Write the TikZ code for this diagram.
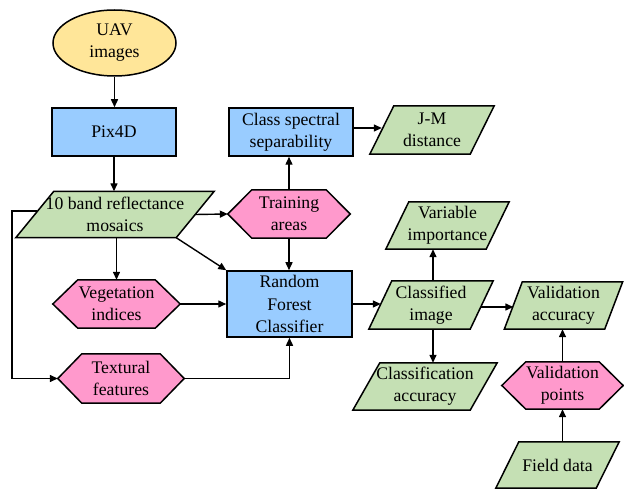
\documentclass[tikz,border=0pt]{standalone}
\usepackage{fontspec}
\setmainfont{Liberation Serif}
\usetikzlibrary{shapes.geometric,arrows.meta,backgrounds}
\definecolor{cyel}{RGB}{255,230,153}
\definecolor{cblue}{RGB}{153,204,255}
\definecolor{cgreen}{RGB}{197,224,180}
\definecolor{cpink}{RGB}{255,153,204}
\newcommand\paraShape[3]{\draw[shapeline,fill=#3] ([xshift=#2]#1.north west) -- (#1.north east) -- ([xshift=-#2]#1.south east) -- (#1.south west) -- cycle;}
\newcommand\hexShape[3]{\draw[shapeline,fill=#3] (#1.west) -- ([xshift=#2]#1.north west) -- ([xshift=-#2]#1.north east) -- (#1.east) -- ([xshift=-#2]#1.south east) -- ([xshift=#2]#1.south west) -- cycle;}
\begin{document}
\begin{tikzpicture}[x=1pt,y=-1pt,
  font={\fontsize{17.7}{22}\selectfont},
  shapeline/.style={draw=black,line width=1.5pt,line join=miter},
  box/.style={shapeline,fill=cblue,inner sep=0pt,align=center},
  txt/.style={inner sep=0pt,align=center},
  arr/.style={line width=1.4pt,-{Triangle[length=8pt,width=7pt]}},
]
\useasboundingbox (0,0) rectangle (624,489);
\node[shapeline,fill=cyel,ellipse,minimum width=123pt,minimum height=66pt,inner sep=0pt,align=center] (uav) at (114.5,43) {UAV\\images};
\node[box,minimum width=124pt,minimum height=48pt] (pix) at (114,132) {Pix4D};
\node[txt,minimum width=198pt,minimum height=46pt] (band) at (115,214.5) {10 band reflectance\\mosaics};
\node[txt,minimum width=122pt,minimum height=48pt] (train) at (289,214) {Training\\areas};
\node[box,minimum width=124pt,minimum height=48pt] (css) at (291,132) {Class spectral\\separability};
\node[txt,minimum width=124pt,minimum height=48pt] (jm) at (432,130) {J-M\\distance};
\node[txt,minimum width=123pt,minimum height=47pt] (vi) at (447.5,225.5) {Variable\\importance};
\node[box,minimum width=125pt,minimum height=66pt,font={\fontsize{17.7}{22.5}\selectfont}] (rf) at (289.5,304) {Random\\Forest\\Classifier};
\node[txt,minimum width=127pt,minimum height=48pt] (veg) at (116.5,304) {Vegetation\\indices};
\node[txt,minimum width=126pt,minimum height=49pt] (tex) at (121,378.5) {Textural\\features};
\node[txt,minimum width=124pt,minimum height=48pt] (ci) at (431,305) {Classified\\image};
\node[txt,minimum width=144pt,minimum height=47pt] (ca) at (425,386.5) {Classification\\accuracy};
\node[txt,minimum width=118pt,minimum height=47pt] (va) at (563.5,305.5) {Validation\\accuracy};
\node[txt,minimum width=121pt,minimum height=47pt] (vp) at (562.5,385.5) {Validation\\points};
\node[txt,minimum width=123pt,minimum height=46pt] (fd) at (557.5,465) {Field data};
\begin{pgfonlayer}{background}
\paraShape{band}{38pt}{cgreen}
\paraShape{jm}{24pt}{cgreen}
\paraShape{vi}{23pt}{cgreen}
\paraShape{ci}{23pt}{cgreen}
\paraShape{ca}{27pt}{cgreen}
\paraShape{va}{18pt}{cgreen}
\paraShape{fd}{23pt}{cgreen}
\hexShape{train}{24pt}{cpink}
\hexShape{veg}{25pt}{cpink}
\hexShape{tex}{24pt}{cpink}
\hexShape{vp}{24pt}{cpink}
\end{pgfonlayer}
% connectors
\draw[arr] (uav.south) -- (uav.south |- pix.north);
\draw[arr] (pix.south) -- (pix.south |- band.north);
\draw[arr] ([xshift=-19pt]band.east) -- (train.west);
\draw[arr] (train.north) -- (train.north |- css.south);
\coordinate (jmw) at ([xshift=12pt]jm.west);
\path ([yshift=4pt]css.east) coordinate (cssa);
\draw[arr] (cssa) -- (cssa -| jmw);
\draw[arr] (train.south) -- (train.south |- rf.north);
\draw[arr] ([xshift=-38pt]band.south east) -- (rf.north west);
\draw[arr] (veg.north |- band.south) -- (veg.north);
\draw[arr] (veg.east) -- (veg.east -| rf.west);
\coordinate (loopx) at (12,0);
\path ([xshift=21.5pt,yshift=3.5pt]band.west) coordinate (bl);
\draw[arr] (bl) -- (bl -| loopx) |- (tex.west);
\draw[arr] (tex.east) -| (rf.south);
\coordinate (ciw) at ([xshift=12pt]ci.west);
\draw[arr] (rf.east) -- (rf.east -| ciw);
\path ([xshift=2pt]ci.north) coordinate (cin);
\path ([xshift=2pt]ci.south) coordinate (cis);
\draw[arr] (cin) -- (cin |- vi.south);
\draw[arr] (cis) -- (cis |- ca.north);
\path ([xshift=-12pt,yshift=-2pt]ci.east) coordinate (cie);
\coordinate (vaw) at ([xshift=9pt]va.west);
\draw[arr] (cie) -- (cie -| vaw);
\draw[arr] (vp.north) -- (vp.north |- va.south);
\draw[arr] (vp.south |- fd.north) -- (vp.south);
\end{tikzpicture}
\end{document}
